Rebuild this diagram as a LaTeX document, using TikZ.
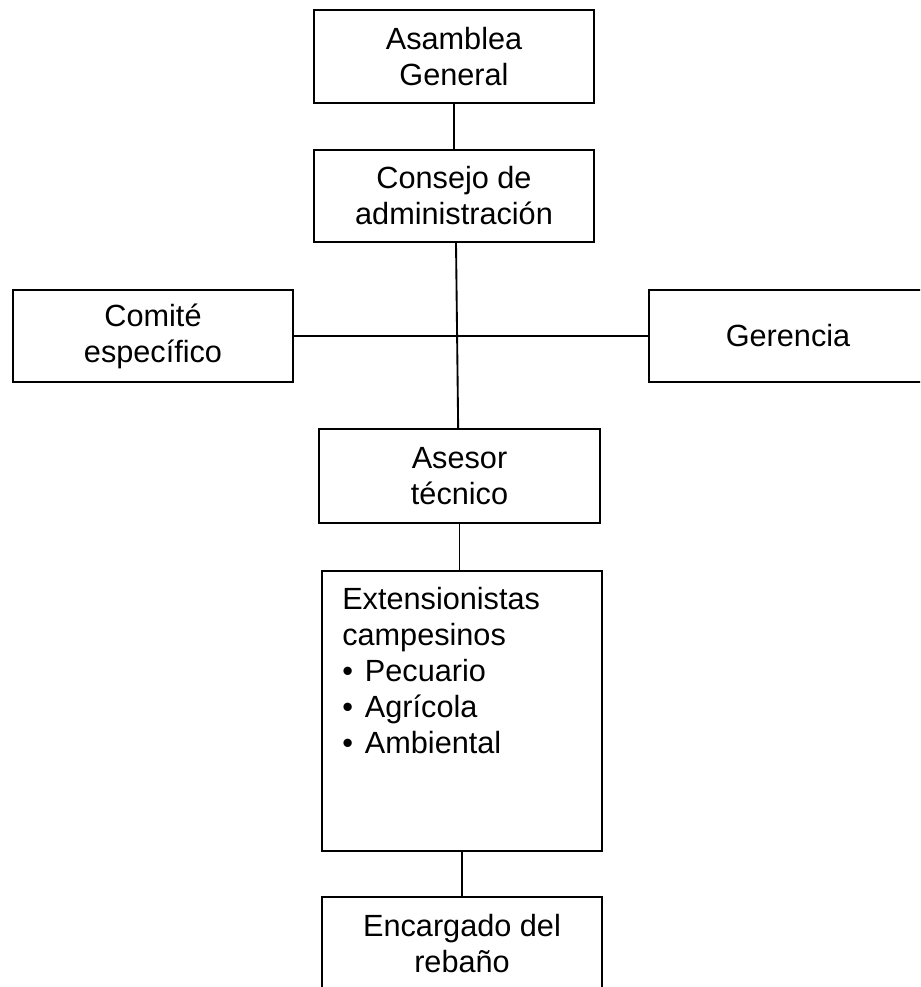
\documentclass[tikz,border=0pt]{standalone}
\usepackage{fontspec}
\setmainfont{Liberation Sans}
\begin{document}
\begin{tikzpicture}[x=0.75pt,y=-0.75pt,
  orgbox/.style={draw, line width=1.4pt, inner sep=0pt, align=center,
    font=\fontsize{23}{27}\selectfont},
  listtext/.style={inner sep=0pt, align=left, anchor=north west,
    font=\fontsize{23}{27}\selectfont},
  link/.style={line width=1.4pt}]
\useasboundingbox (0,0) rectangle (920,987);
\clip (0,0) rectangle (920,987);

% boxes of the chart
\node[orgbox, minimum width=210pt, minimum height=69.75pt] (asam) at (454,56.5) {Asamblea\\General};
\node[orgbox, minimum width=210pt, minimum height=69pt] (cons) at (454,196) {Consejo de\\administración};
\node[orgbox, minimum width=210pt, minimum height=69pt] (comi) at (153,336) {Comité\\específico};
\node[orgbox, minimum width=208.5pt, minimum height=69pt] (gere) at (788,336) {Gerencia};
\node[orgbox, minimum width=210.75pt, minimum height=70.5pt] (ases) at (459.5,476) {Asesor\\técnico};
\node[orgbox, minimum width=210pt, minimum height=210pt] (exte) at (462,711) {};
\node[listtext] (extetxt) at (342,587) {Extensionistas\\campesinos\\
  \makebox[17pt][l]{\textbullet}Pecuario\\
  \makebox[17pt][l]{\textbullet}Agrícola\\
  \makebox[17pt][l]{\textbullet}Ambiental};
\node[orgbox, minimum width=210pt, minimum height=70.5pt] (enca) at (462,944) {Encargado del\\rebaño};

% connectors
\draw[link] (asam) -- (cons);
\draw[link] ([xshift=1.5pt]cons.south) -- ([xshift=-1pt]ases.north);
\draw[link] (comi.east) -- (gere.west);
\draw[link] (ases.south) -- (ases.south |- exte.north);
\draw[link] (exte) -- (enca);
\end{tikzpicture}
\end{document}
